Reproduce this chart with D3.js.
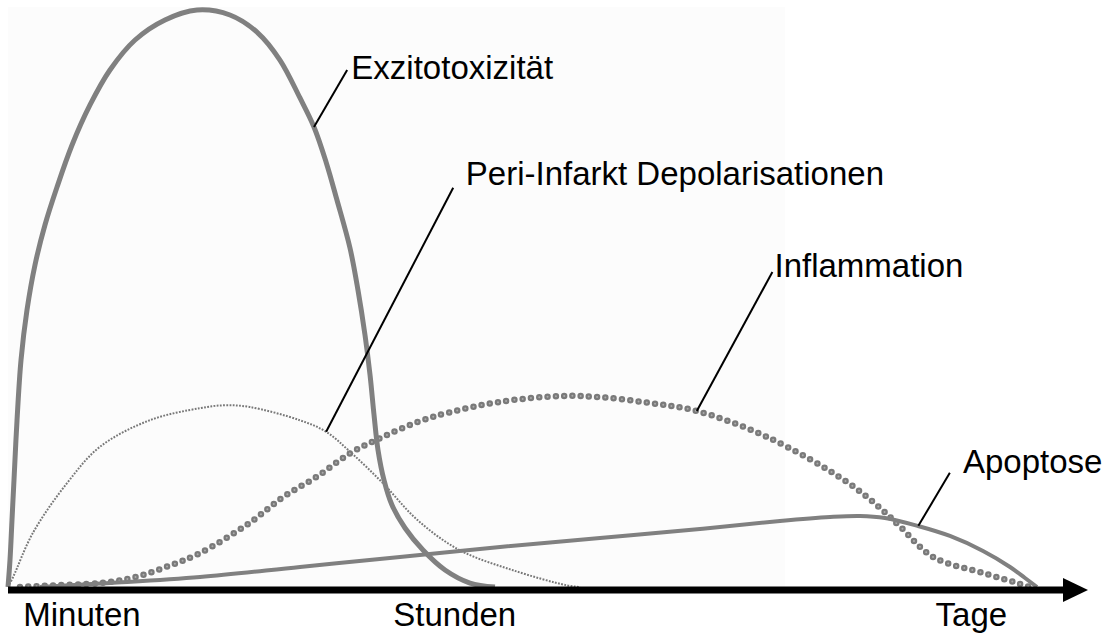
<html>
<head>
    <meta charset="UTF-8">
    <title>Zeitverlauf</title>
    <style>
        body { margin: 0; background: #ffffff; }
        text { font-family: "Liberation Sans", Arial, sans-serif; }
    </style>
</head>
<body>

<script src="https://d3js.org/d3.v7.min.js"></script>
<div id="my_dataviz"></div>

<script>
    // data: t = relative time (0..100), v = relative intensity (0..100)
    var exzitotoxizitaet = [
        [0, 0], [0.19, 4.68], [0.38, 11.61], [0.57, 18.54], [0.86, 28.94], [1.24, 39.34],
        [1.81, 48.01], [2.57, 55.81], [3.52, 62.74], [4.67, 69.32], [6.10, 76.6], [7.81, 83.54],
        [9.71, 89.6], [12.1, 94.8], [14.95, 98.27], [18.0, 100], [21.14, 99.13], [23.81, 96.01],
        [25.9, 91.33], [27.81, 84.75], [29.14, 79.72], [30.29, 73.66], [31.33, 67.07], [32.57, 58.75],
        [33.33, 51.47], [34.0, 43.67], [34.48, 36.74], [34.86, 29.81], [35.24, 23.74], [35.81, 18.54],
        [36.57, 14.21], [37.81, 10.23], [39.52, 6.41], [41.62, 2.95], [44.0, 0.69], [46.38, 0]
    ];
    var periInfarkt = [
        [0, 0], [0.48, 1.7], [2.38, 9.4], [5.62, 18], [8.76, 24.3], [13.5, 28.9],
        [18.3, 31], [20.7, 31.5], [23, 31.2], [27.8, 28.9], [30.3, 26.9], [32.6, 23.4],
        [35.7, 18], [39, 11.6], [43, 6.4], [48.1, 2.9], [53.2, 0.3], [54.5, 0]
    ];
    var inflammation = [
        [1.14, 0], [3.33, 0.2], [8.76, 0.7], [11.9, 1.6], [15.1, 3.5], [18.3, 5.9],
        [23, 11.1], [26.2, 15.6], [29.4, 19.1], [32.6, 23.2], [35.7, 26], [39, 28.6],
        [42.1, 30.3], [46.9, 32.1], [52.6, 33.1], [56.4, 32.9], [61.1, 31.9], [65.6, 30.5],
        [72.3, 26], [79.9, 18.2], [83.3, 13.3], [85, 10.4], [88.1, 5.2], [92.9, 2.4],
        [96.1, 0.7], [97.3, 0]
    ];
    var apoptose = [
        [3.05, 0], [9.71, 0.69], [18.29, 1.73], [27.81, 3.47], [37.33, 5.2], [46.86, 6.93],
        [56.38, 8.49], [65.9, 10.05], [73.52, 11.44], [78.29, 12.13], [81.14, 12.31], [83.52, 11.96],
        [86.67, 10.57], [89.71, 8.84], [92.86, 6.24], [95.43, 3.47], [96.86, 1.56], [98.0, 0]
    ];

    // labels: text, point on curve, end of leader line, text position (data units)
    var labelTexts = ["Exzitotoxizität", "Peri-Infarkt Depolarisationen", "Inflammation", "Apoptose"];
    var labelAnchors = [[29.14, 79.72], [30.3, 26.9], [65.6, 30.5], [86.7, 10.6]];
    var labelEnds = [[32.3, 89.6], [42.4, 69.2], [72.8, 54.6], [89.7, 19.8]];
    var labelPos = [[32.7, 88.0], [43.6, 69.7], [73.0, 53.7], [90.95, 19.8]];

    // time axis labels
    var tickLabels = ["Minuten", "Stunden", "Tage"];
    var tickValues = [7.0, 42.5, 91.7];

    var outerWidth = 1109, outerHeight = 637;

    var svg = d3.select("#my_dataviz")
        .append("svg")
        .attr("width", outerWidth)
        .attr("height", outerHeight);

    var x = d3.scaleLinear().domain([0, 100]).range([8, 1058]);
    var y = d3.scaleLinear().domain([0, 100]).range([587, 10]);

    // faint background panel
    svg.append("rect")
        .attr("x", 8)
        .attr("y", 7)
        .attr("width", 777)
        .attr("height", 580)
        .style("fill", "#fcfcfc");

    var line = d3.line()
        .x(function(d) { return x(d[0]); })
        .y(function(d) { return y(d[1]); })
        .curve(d3.curveCatmullRom.alpha(0.5));

    // Peri-Infarkt: fine dotted
    svg.append("path")
        .datum(periInfarkt)
        .attr("d", line)
        .style("fill", "none")
        .style("stroke", "#787878")
        .style("stroke-width", 2)
        .style("stroke-dasharray", "1.8,1.4");

    // Inflammation: chain of rings
    svg.append("path")
        .datum(inflammation)
        .attr("d", line)
        .style("fill", "none")
        .style("stroke", "#7a7a7a")
        .style("stroke-width", 6.5)
        .style("stroke-linecap", "round")
        .style("stroke-dasharray", "0,8.3");
    svg.append("path")
        .datum(inflammation)
        .attr("d", line)
        .style("fill", "none")
        .style("stroke", "#ababab")
        .style("stroke-width", 2)
        .style("stroke-linecap", "round")
        .style("stroke-dasharray", "0,8.3");

    // Apoptose
    svg.append("path")
        .datum(apoptose)
        .attr("d", line)
        .style("fill", "none")
        .style("stroke", "#808080")
        .style("stroke-width", 4);

    // Exzitotoxizität
    svg.append("path")
        .datum(exzitotoxizitaet)
        .attr("d", line)
        .style("fill", "none")
        .style("stroke", "#808080")
        .style("stroke-width", 5);

    // time axis with arrow
    svg.append("line")
        .attr("x1", x(0))
        .attr("x2", 1066)
        .attr("y1", 590)
        .attr("y2", 590)
        .style("stroke", "#000")
        .style("stroke-width", 7);
    svg.append("path")
        .attr("d", "M1063,578L1088,590L1063,602Z")
        .style("fill", "#000");

    var axis = svg.append("g")
        .attr("transform", "translate(0,590)")
        .call(d3.axisBottom(x)
            .tickValues(tickValues)
            .tickSize(0)
            .tickPadding(13)
            .tickFormat(function(d, i) { return tickLabels[i]; }));
    axis.select(".domain").remove();
    axis.selectAll("text")
        .style("font-family", "'Liberation Sans', Arial, sans-serif")
        .style("font-size", "33px")
        .style("fill", "#000");

    // leader lines and labels
    svg.selectAll(".leader")
        .data(labelTexts)
        .enter()
        .append("line")
        .attr("class", "leader")
        .attr("x1", function(d, i) { return x(labelAnchors[i][0]); })
        .attr("y1", function(d, i) { return y(labelAnchors[i][1]); })
        .attr("x2", function(d, i) { return x(labelEnds[i][0]); })
        .attr("y2", function(d, i) { return y(labelEnds[i][1]); })
        .style("stroke", "#000")
        .style("stroke-width", 2);

    svg.selectAll(".label")
        .data(labelTexts)
        .enter()
        .append("text")
        .attr("class", "label")
        .attr("x", function(d, i) { return x(labelPos[i][0]); })
        .attr("y", function(d, i) { return y(labelPos[i][1]); })
        .style("font-size", "33px")
        .style("fill", "#000")
        .text(function(d) { return d; });
</script>

</body>
</html>
